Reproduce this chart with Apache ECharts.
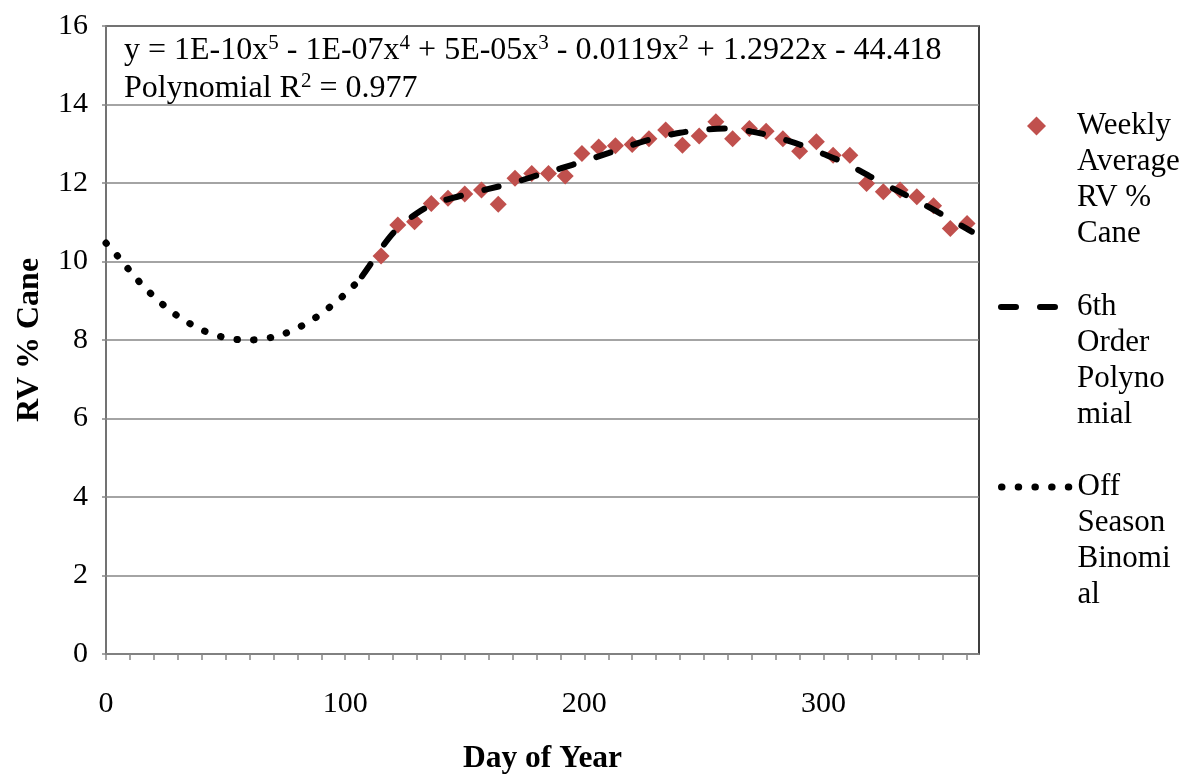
<!DOCTYPE html>
<html><head><meta charset="utf-8">
<script src="https://cdn.jsdelivr.net/npm/echarts@6/dist/echarts.min.js"></script>
<style>html,body{margin:0;padding:0;background:#fff}#c{width:1197px;height:774px}</style>
</head><body><div id="c"></div>
<script>
// ---- data ----
const weekDays = [115,122,129,136,143,150,157,164,171,178,185,192,199,206,213,220,227,234,241,248,255,262,269,276,283,290,297,304,311,318,325,332,339,346,353,360];
const weeklyRV = [10.14,10.93,11.01,11.48,11.61,11.72,11.82,11.46,12.12,12.24,12.24,12.18,12.75,12.92,12.95,12.98,13.13,13.35,12.96,13.20,13.56,13.13,13.39,13.32,13.13,12.81,13.05,12.71,12.71,11.99,11.78,11.82,11.65,11.42,10.84,10.97];

const polyDays = [107,110,115,120,125,130,135,140,145,150,160,170,180,190,200,210,220,230,240,250,260,270,280,290,300,310,320,330,340,350,360,362];
const polyRV   = [9.62,9.88,10.33,10.72,11.00,11.23,11.41,11.53,11.62,11.70,11.85,12.00,12.19,12.37,12.56,12.76,12.97,13.15,13.28,13.36,13.39,13.31,13.17,12.98,12.74,12.48,12.15,11.83,11.52,11.18,10.83,10.76];

const offDays = [0,5,10,15,20,25,30,35,40,45,50,55,60,65,70,75,80,85,90,95,100,105,108];
const offRV   = [10.47,10.13,9.76,9.41,9.11,8.84,8.61,8.42,8.26,8.14,8.06,8.01,8.00,8.02,8.08,8.17,8.30,8.47,8.67,8.91,9.17,9.47,9.63];

const xLabelValues = [0,100,200,300];
const xTickValues = [0,10,20,30,40,50,60,70,80,90,100,110,120,130,140,150,160,170,180,190,200,210,220,230,240,250,260,270,280,290,300,310,320,330,340,350,360];

const seriesNames = ['Weekly Average RV % Cane','6th Order Polynomial','Off Season Binomial'];
const legendLines = [['Weekly','Average','RV %','Cane'],['6th','Order','Polyno','mial'],['Off','Season','Binomi','al']];
const eqLine1 = 'y = 1E-10x{s|5} - 1E-07x{s|4} + 5E-05x{s|3} - 0.0119x{s|2} + 1.2922x - 44.418';
const eqLine2 = 'Polynomial R{s|2} = 0.977';

// ---- chart ----
const FONT = 'Liberation Serif';
const GRAY = '#868686';
const RED = '#C0504D';
const chart = echarts.init(document.getElementById('c'), null, {renderer:'canvas'});

const LH = 36;
const iconCenters = [126, 307, 487];
const legendLefts = [1028, 998, 998];
const legendHeights = [19, 17, 17];
const legendWidths = [0, 6, 7];
const legends = seriesNames.map((n, i) => {
  const h = legendHeights[i];
  const lg = {
    data: i === 0 ? [{ name: n, icon: 'path://M0,-1L1,0L0,1L-1,0Z' }] : [n],
    left: legendLefts[i] - (i === 0 ? (h - 17) / 2 : 0),
    top: iconCenters[i] - h / 2 - (3.5 * LH - h / 2),
    orient: 'vertical', padding: 0,
    itemWidth: 71, itemHeight: h,
    symbolKeepAspect: true,
    selectedMode: false,
    formatter: () => '\n\n\n' + legendLines[i].join('\n'),
    textStyle: { fontFamily: FONT, fontSize: 31, color: '#000', lineHeight: LH }
  };
  if (i > 0) {
    lg.itemStyle = { opacity: 0 };
    lg.lineStyle = { width: legendWidths[i] };
  } else {
    lg.itemStyle = { color: RED, opacity: 1 };
  }
  return lg;
});

chart.setOption({
  animation: false,
  backgroundColor: '#fff',
  grid: { left: 106, right: 218, top: 26, bottom: 120, show: true, borderColor: '#000', borderWidth: 1.5,
          backgroundColor: 'transparent', outerBoundsMode: 'none', containLabel: false },
  xAxis: {
    type: 'value', min: 0, max: 365, interval: 100,
    name: 'Day of Year', nameLocation: 'middle', nameGap: 89,
    nameTextStyle: { fontFamily: FONT, fontSize: 31.5, fontWeight: 'bold', color: '#000' },
    axisLine: { show: true, lineStyle: { color: GRAY, width: 1.5 } },
    axisTick: { show: true, length: 6, inside: false, customValues: xTickValues, lineStyle: { color: GRAY, width: 1.5 } },
    axisLabel: { customValues: xLabelValues, margin: 35, fontFamily: FONT, fontSize: 30, color: '#000' },
    splitLine: { show: false }
  },
  yAxis: {
    type: 'value', min: 0, max: 16, interval: 2,
    name: 'RV % Cane', nameLocation: 'middle', nameGap: 60, nameRotate: 90,
    nameTextStyle: { fontFamily: FONT, fontSize: 32, fontWeight: 'bold', color: '#000' },
    axisLine: { show: true, lineStyle: { color: GRAY, width: 1.5 } },
    axisTick: { show: true, length: 4, lineStyle: { color: GRAY, width: 1.5 } },
    axisLabel: { margin: 18, fontFamily: FONT, fontSize: 30, color: '#000' },
    splitLine: { show: true, lineStyle: { color: GRAY, width: 1.5 } }
  },
  legend: legends,
  graphic: [
    { type: 'text', x: 124, y: 51, z: 100, style: { text: eqLine1, fontFamily: FONT, fontSize: 32, fill: '#000', verticalAlign: 'middle', lineHeight: 36,
        rich: { s: { fontFamily: FONT, fontSize: 21, lineHeight: 22, verticalAlign: 'top', fill: '#000' } } } },
    { type: 'text', x: 124, y: 89, z: 100, style: { text: eqLine2, fontFamily: FONT, fontSize: 32, fill: '#000', verticalAlign: 'middle', lineHeight: 36,
        rich: { s: { fontFamily: FONT, fontSize: 21, lineHeight: 22, verticalAlign: 'top', fill: '#000' } } } }
  ],
  series: [
    { name: seriesNames[0], type: 'scatter', symbol: 'diamond', symbolSize: 17,
      itemStyle: { color: RED, opacity: 1 },
      data: weekDays.map((d, i) => [d, weeklyRV[i]]) },
    { name: seriesNames[1], type: 'line', symbol: 'none', smooth: 0.3, color: '#000',
      lineStyle: { color: '#000', width: 6, type: [15, 24], cap: 'round' },
      data: polyDays.map((d, i) => [d, polyRV[i]]) },
    { name: seriesNames[2], type: 'line', symbol: 'none', smooth: 0.3, color: '#000',
      lineStyle: { color: '#000', width: 7, type: [0.5, 16.2], cap: 'round' },
      data: offDays.map((d, i) => [d, offRV[i]]) }
  ]
});
</script></body></html>
